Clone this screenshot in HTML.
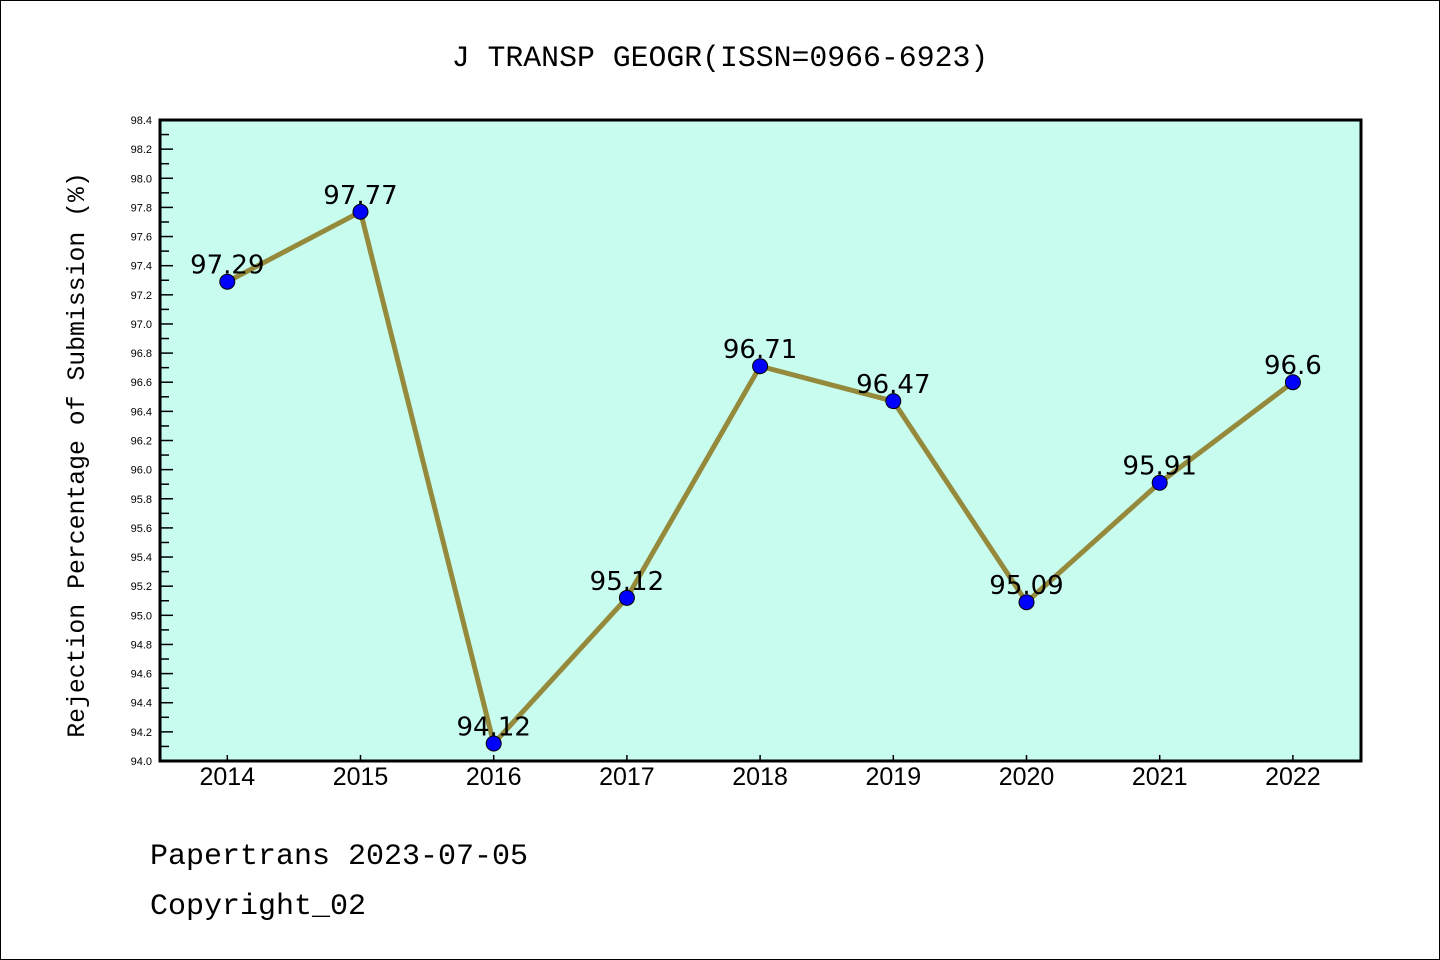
<!DOCTYPE html>
<html><head><meta charset="utf-8"><style>
html,body{margin:0;padding:0;background:#fff}
svg{display:block}
</style></head><body>
<svg width="1440" height="960" viewBox="0 0 1440 960" xmlns="http://www.w3.org/2000/svg">
<rect x="0.5" y="0.5" width="1439" height="959" fill="#fff" stroke="#000"/>
<text x="720" y="66" text-anchor="middle" font-family="Liberation Mono, monospace" font-size="29.8" fill="#000">J TRANSP GEOGR(ISSN=0966-6923)</text>
<rect x="160" y="120" width="1201" height="641" fill="#c8fcee"/>
<g id="yaxis"></g><g id="xaxis"></g><g id="series"></g>
<rect x="160" y="120" width="1201" height="641" fill="none" stroke="#000" stroke-width="3"/>
<text transform="translate(84,455) rotate(-90)" text-anchor="middle" font-family="Liberation Mono, monospace" font-size="24.8" fill="#000">Rejection Percentage of Submission (%)</text>
<text x="150" y="864" font-family="Liberation Mono, monospace" font-size="30" fill="#000">Papertrans 2023-07-05</text>
<text x="150" y="914" font-family="Liberation Mono, monospace" font-size="30" fill="#000">Copyright_02</text>
</svg>
<script>
const categories=["2014","2015","2016","2017","2018","2019","2020","2021","2022"];
const values=[97.29,97.77,94.12,95.12,96.71,96.47,95.09,95.91,96.6];
const valueLabels=["97.29","97.77","94.12","95.12","96.71","96.47","95.09","95.91","96.6"];
const yMin=94.0,yMax=98.4;
const NS="http://www.w3.org/2000/svg";
const L=160,R=1361,T=120,B=761;
const x0=227.3,step=133.2;
function xs(i){return x0+i*step;}
function ys(v){return B-(v-yMin)/(yMax-yMin)*(B-T);}
function mk(t,a){const e=document.createElementNS(NS,t);for(const k in a)e.setAttribute(k,a[k]);return e;}
const ya=document.getElementById('yaxis'),xa=document.getElementById('xaxis'),sg=document.getElementById('series');
for(let k=0;k<=44;k++){
  const v=yMin+k*0.1,y=ys(v),major=k%2===0;
  const t=mk('line',{x1:L,x2:L+(major?13:9),y1:y,y2:y,stroke:'#000','stroke-width':1.5});
  
  
  ya.appendChild(t);
  if(major){
    const lb=mk('text',{x:L-8,y:y+4,'text-anchor':'end','font-family':'Liberation Sans, sans-serif','font-size':11,fill:'#000'});
    lb.textContent=v.toFixed(1);
    
    
    ya.appendChild(lb);
  }
}
categories.forEach((c,i)=>{
  const x=xs(i);
  const t=mk('line',{x1:x,x2:x,y1:B,y2:B-6,stroke:'#000','stroke-width':1.5});
  
  
  xa.appendChild(t);
  const lb=mk('text',{x:x,y:785,'text-anchor':'middle','font-family':'Liberation Sans, sans-serif','font-size':25,fill:'#000'});
  lb.textContent=c;
  
  
  xa.appendChild(lb);
});
const pts=values.map((v,i)=>xs(i)+','+ys(v)).join(' ');
const pl=mk('polyline',{points:pts,fill:'none',stroke:'#958a3c','stroke-width':5,'stroke-linejoin':'round'});


sg.appendChild(pl);
values.forEach((v,i)=>{
  const lb=mk('text',{x:xs(i),y:ys(v)-8,'text-anchor':'middle','font-family':'DejaVu Sans, sans-serif','font-size':26,fill:'#000'});
  lb.textContent=valueLabels[i];
  
  
  sg.appendChild(lb);
});
values.forEach((v,i)=>{
  const c=mk('circle',{cx:xs(i),cy:ys(v),r:7.5,fill:'#0000ff',stroke:'#000','stroke-width':1});
  
  
  sg.appendChild(c);
});
</script>
</body></html>
